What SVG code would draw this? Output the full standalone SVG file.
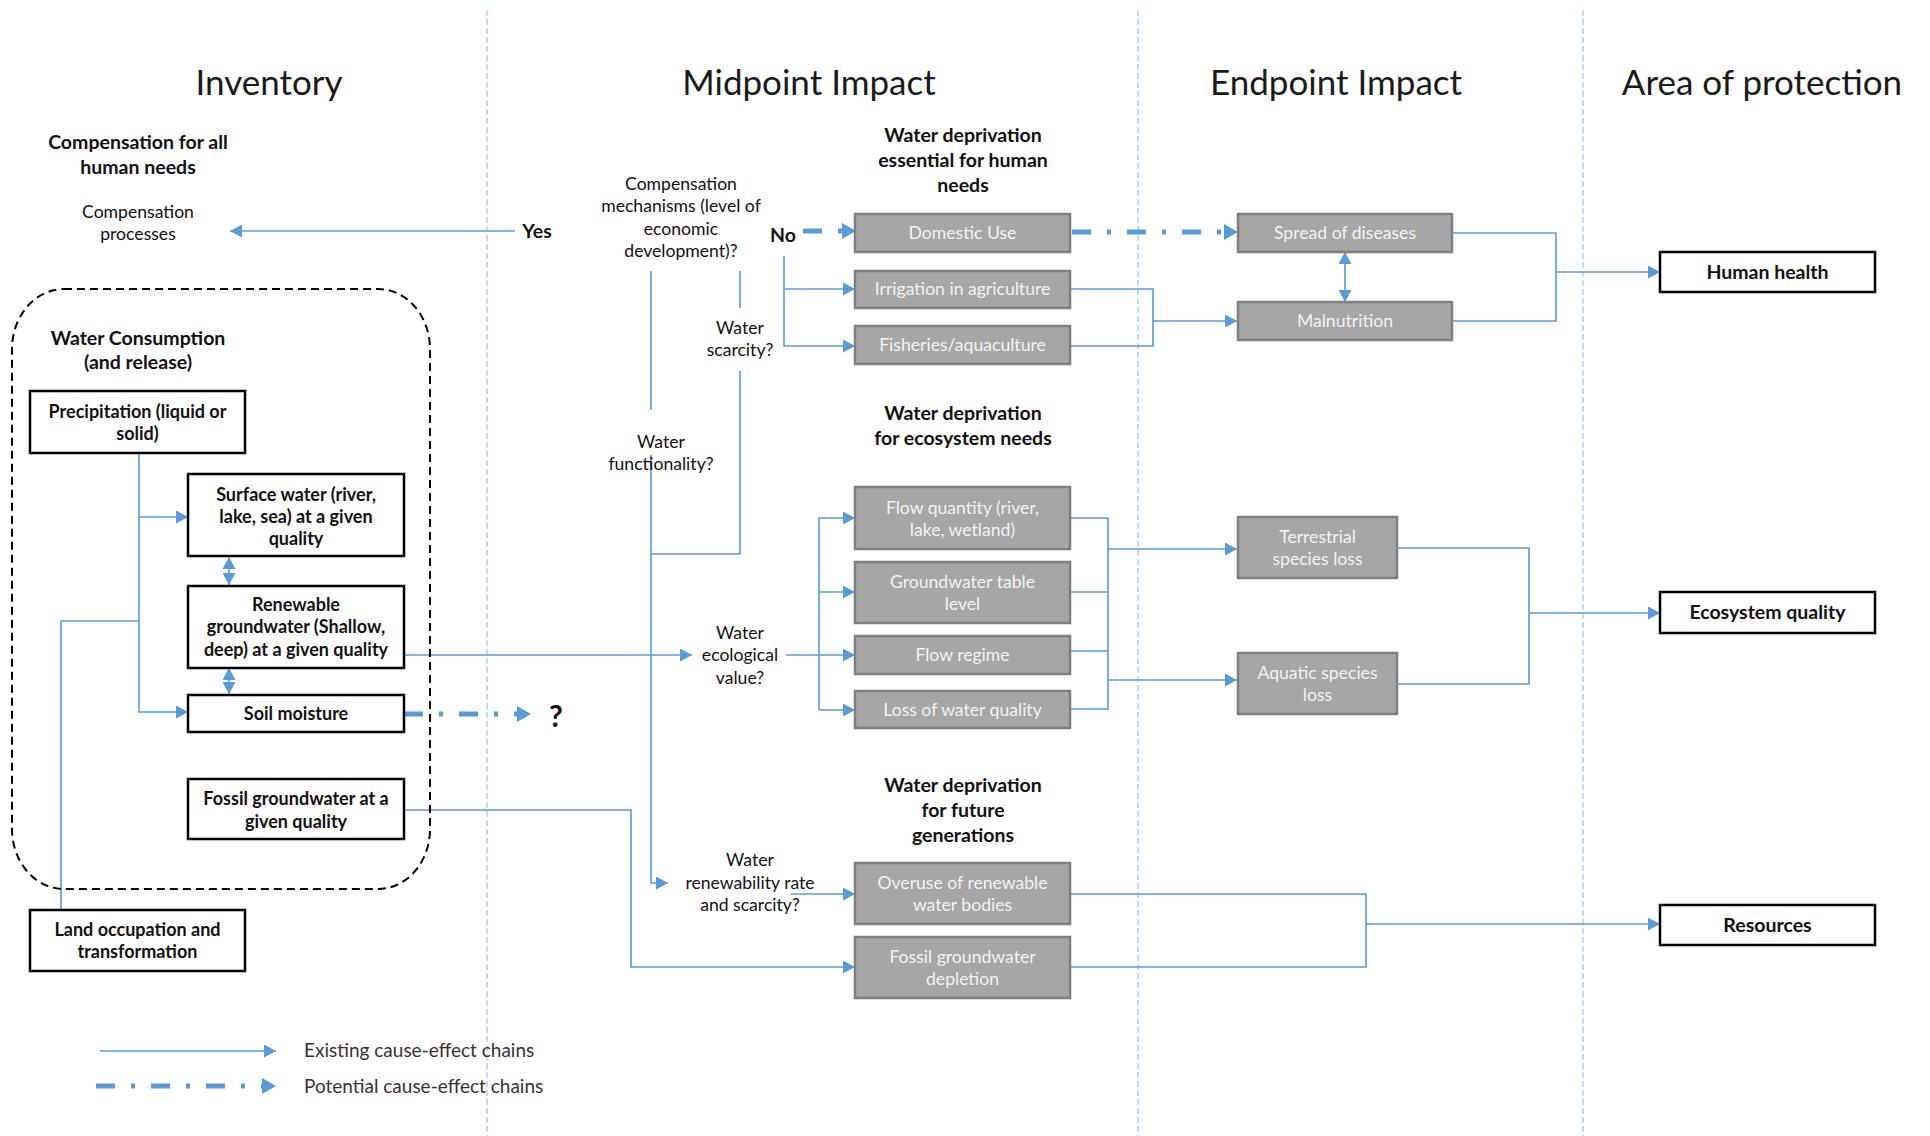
<svg xmlns="http://www.w3.org/2000/svg" width="1930" height="1136" viewBox="0 0 1930 1136">
<defs>
<style>
text{font-family:Lato,"Open Sans","Liberation Sans",sans-serif;text-anchor:middle;fill:#111}
.title{font-size:35px;fill:#1a1a1a}
.b{font-weight:bold;font-size:18px}
.p{font-weight:bold;font-size:19.5px}
.h{font-weight:bold;font-size:19.5px}
.r{font-size:17.6px}
.g{font-size:17.6px;fill:#f2f2f2}
.leg{font-size:19px;text-anchor:start;fill:#333}
.sep{stroke:#9DC3E6;stroke-width:1.2;stroke-dasharray:6 3;fill:none}
.c{stroke:#5B9BD5;stroke-width:1.6;fill:none}
.dd{stroke:#5B9BD5;stroke-width:5;fill:none;stroke-dasharray:19 16 4 16}
.wb{fill:#fff;stroke:#000;stroke-width:2.5}
.gb{fill:#A6A6A6;stroke:#7F7F7F;stroke-width:2.5}
</style>
<marker id="a" viewBox="0 0 12 13" refX="12" refY="6.5" markerWidth="12" markerHeight="13" markerUnits="userSpaceOnUse" orient="auto-start-reverse"><path d="M0,0L12,6.5L0,13z" fill="#5B9BD5"/></marker>
<marker id="d" viewBox="0 0 14 16" refX="0" refY="8" markerWidth="14" markerHeight="16" markerUnits="userSpaceOnUse" orient="auto"><path d="M0,0L14,8L0,16z" fill="#5B9BD5"/></marker>
</defs>
<rect width="1930" height="1136" fill="#fff"/>

<g id="separators">
<line class="sep" x1="487" y1="10" x2="487" y2="1136"/>
<line class="sep" x1="1138" y1="10" x2="1138" y2="1136"/>
<line class="sep" x1="1583" y1="10" x2="1583" y2="1136"/>
</g>

<g id="titles">
<text class="title" x="269" y="95">Inventory</text>
<text class="title" x="809" y="95">Midpoint Impact</text>
<text class="title" x="1336" y="95">Endpoint Impact</text>
<text class="title" x="1762" y="95">Area of protection</text>
</g>

<g id="connectors">
<path class="c" d="M515,231H230" marker-end="url(#a)"/>
<path class="c" d="M139,453V712H188" marker-end="url(#a)"/>
<path class="c" d="M139,517H188" marker-end="url(#a)"/>
<path class="c" d="M61,910V621H139"/>
<path class="c" d="M229,557V585" marker-start="url(#a)" marker-end="url(#a)"/>
<path class="c" d="M229,668V694" marker-start="url(#a)" marker-end="url(#a)"/>
<path class="c" d="M404,655H692" marker-end="url(#a)"/>
<path class="dd" d="M404,714H517" marker-end="url(#d)"/>
<path class="c" d="M404,810H631V967H855" marker-end="url(#a)"/>
<path class="dd" d="M803,231H842" marker-end="url(#d)"/>
<path class="c" d="M651,271V410"/>
<path class="c" d="M651,455V883H668" marker-end="url(#a)"/>
<path class="c" d="M740,271V308"/>
<path class="c" d="M740,371V554H651"/>
<path class="c" d="M784,256V346H855" marker-end="url(#a)"/>
<path class="c" d="M784,289H855" marker-end="url(#a)"/>
<path class="c" d="M786,655H855" marker-end="url(#a)"/>
<path class="c" d="M819,710V518H855" marker-end="url(#a)"/>
<path class="c" d="M819,592H855" marker-end="url(#a)"/>
<path class="c" d="M819,710H855" marker-end="url(#a)"/>
<path class="c" d="M791,894H855" marker-end="url(#a)"/>
<path class="dd" d="M1072,232H1224" marker-end="url(#d)"/>
<path class="c" d="M1070,289H1153V346H1070"/>
<path class="c" d="M1153,321H1237" marker-end="url(#a)"/>
<path class="c" d="M1070,518H1108V709H1070"/>
<path class="c" d="M1070,592H1108"/>
<path class="c" d="M1070,651H1108"/>
<path class="c" d="M1108,549H1237" marker-end="url(#a)"/>
<path class="c" d="M1108,680H1237" marker-end="url(#a)"/>
<path class="c" d="M1070,894H1366V967H1070"/>
<path class="c" d="M1366,924H1660" marker-end="url(#a)"/>
<path class="c" d="M1345,252V302" marker-start="url(#a)" marker-end="url(#a)"/>
<path class="c" d="M1452,233H1556V321H1452"/>
<path class="c" d="M1556,272H1660" marker-end="url(#a)"/>
<path class="c" d="M1397,548H1529V684H1397"/>
<path class="c" d="M1529,613H1660" marker-end="url(#a)"/>
</g>

<g id="compensation">
<text class="h" x="138" y="149">Compensation for all</text>
<text class="h" x="138" y="174">human needs</text>
<text class="r" x="138" y="218">Compensation</text>
<text class="r" x="138" y="240">processes</text>
<text class="h" x="537" y="238">Yes</text>
</g>

<g id="water-consumption">
<rect x="12" y="289" width="418" height="600" rx="52" ry="60" fill="none" stroke="#000" stroke-width="2" stroke-dasharray="8 5"/>
<text class="h" x="138" y="345">Water Consumption</text>
<text class="h" x="138" y="369">(and release)</text>
</g>

<g id="precipitation"><rect class="wb" x="30" y="391" width="215" height="62"/>
<text class="b" x="137.5" y="418">Precipitation (liquid or</text><text class="b" x="137.5" y="440">solid)</text></g>
<g id="surface-water"><rect class="wb" x="188" y="474" width="216" height="82"/>
<text class="b" x="296" y="501">Surface water (river,</text><text class="b" x="296" y="523">lake, sea) at a given</text><text class="b" x="296" y="545">quality</text></g>
<g id="renewable-groundwater"><rect class="wb" x="188" y="586" width="216" height="82"/>
<text class="b" x="296" y="611">Renewable</text><text class="b" x="296" y="633">groundwater (Shallow,</text><text class="b" x="296" y="656">deep) at a given quality</text></g>
<g id="soil-moisture"><rect class="wb" x="188" y="695" width="216" height="37"/>
<text class="b" x="296" y="720">Soil moisture</text></g>
<g id="unknown"><text x="556" y="727" style="font-weight:bold;font-size:30px">?</text></g>
<g id="fossil-groundwater"><rect class="wb" x="188" y="779" width="216" height="60"/>
<text class="b" x="296" y="805">Fossil groundwater at a</text><text class="b" x="296" y="828">given quality</text></g>
<g id="land-occupation"><rect class="wb" x="30" y="910" width="215" height="61"/>
<text class="b" x="137.5" y="936">Land occupation and</text><text class="b" x="137.5" y="958">transformation</text></g>

<g id="q-compensation">
<text class="r" x="681" y="190">Compensation</text>
<text class="r" x="681" y="212">mechanisms (level of</text>
<text class="r" x="681" y="235">economic</text>
<text class="r" x="681" y="257">development)?</text>
<text class="h" x="783" y="242">No</text>
</g>
<g id="q-scarcity"><text class="r" x="740" y="334">Water</text><text class="r" x="740" y="356">scarcity?</text></g>
<g id="q-functionality"><text class="r" x="661" y="448">Water</text><text class="r" x="661" y="470">functionality?</text></g>
<g id="q-ecological"><text class="r" x="740" y="639">Water</text><text class="r" x="740" y="661">ecological</text><text class="r" x="740" y="684">value?</text></g>
<g id="q-renewability"><text class="r" x="750" y="866">Water</text><text class="r" x="750" y="889">renewability rate</text><text class="r" x="750" y="911">and scarcity?</text></g>

<g id="human-needs-title">
<text class="h" x="963" y="142">Water deprivation</text>
<text class="h" x="963" y="167">essential for human</text>
<text class="h" x="963" y="192">needs</text>
</g>
<g id="domestic-use"><rect class="gb" x="855" y="214" width="215" height="38"/><text class="g" x="962.5" y="239">Domestic Use</text></g>
<g id="irrigation"><rect class="gb" x="855" y="271" width="215" height="37"/><text class="g" x="962.5" y="295">Irrigation in agriculture</text></g>
<g id="fisheries"><rect class="gb" x="855" y="326" width="215" height="38"/><text class="g" x="962.5" y="351">Fisheries/aquaculture</text></g>

<g id="ecosystem-needs-title">
<text class="h" x="963" y="420">Water deprivation</text>
<text class="h" x="963" y="445">for ecosystem needs</text>
</g>
<g id="flow-quantity"><rect class="gb" x="855" y="487" width="215" height="62"/><text class="g" x="962.5" y="514">Flow quantity (river,</text><text class="g" x="962.5" y="536">lake, wetland)</text></g>
<g id="groundwater-table"><rect class="gb" x="855" y="562" width="215" height="61"/><text class="g" x="962.5" y="588">Groundwater table</text><text class="g" x="962.5" y="610">level</text></g>
<g id="flow-regime"><rect class="gb" x="855" y="636" width="215" height="38"/><text class="g" x="962.5" y="661">Flow regime</text></g>
<g id="water-quality"><rect class="gb" x="855" y="691" width="215" height="37"/><text class="g" x="962.5" y="716">Loss of water quality</text></g>

<g id="future-title">
<text class="h" x="963" y="792">Water deprivation</text>
<text class="h" x="963" y="817">for future</text>
<text class="h" x="963" y="842">generations</text>
</g>
<g id="overuse"><rect class="gb" x="855" y="863" width="215" height="61"/><text class="g" x="962.5" y="889">Overuse of renewable</text><text class="g" x="962.5" y="911">water bodies</text></g>
<g id="fossil-depletion"><rect class="gb" x="855" y="937" width="215" height="61"/><text class="g" x="962.5" y="963">Fossil groundwater</text><text class="g" x="962.5" y="985">depletion</text></g>

<g id="spread-diseases"><rect class="gb" x="1238" y="214" width="214" height="38"/><text class="g" x="1345" y="239">Spread of diseases</text></g>
<g id="malnutrition"><rect class="gb" x="1238" y="302" width="214" height="38"/><text class="g" x="1345" y="327">Malnutrition</text></g>
<g id="terrestrial"><rect class="gb" x="1238" y="517" width="159" height="61"/><text class="g" x="1317.5" y="543">Terrestrial</text><text class="g" x="1317.5" y="565">species loss</text></g>
<g id="aquatic"><rect class="gb" x="1238" y="653" width="159" height="61"/><text class="g" x="1317.5" y="679">Aquatic species</text><text class="g" x="1317.5" y="701">loss</text></g>

<g id="human-health"><rect class="wb" x="1660" y="252" width="215" height="40"/><text class="p" x="1767.5" y="279">Human health</text></g>
<g id="ecosystem-quality"><rect class="wb" x="1660" y="592" width="215" height="41"/><text class="p" x="1767.5" y="619">Ecosystem quality</text></g>
<g id="resources"><rect class="wb" x="1660" y="905" width="215" height="40"/><text class="p" x="1767.5" y="932">Resources</text></g>

<g id="legend">
<path class="c" d="M100,1051H276" marker-end="url(#a)"/>
<text class="leg" x="304" y="1057">Existing cause-effect chains</text>
<path class="dd" d="M96,1086H262" marker-end="url(#d)"/>
<text class="leg" x="304" y="1093">Potential cause-effect chains</text>
</g>
</svg>
